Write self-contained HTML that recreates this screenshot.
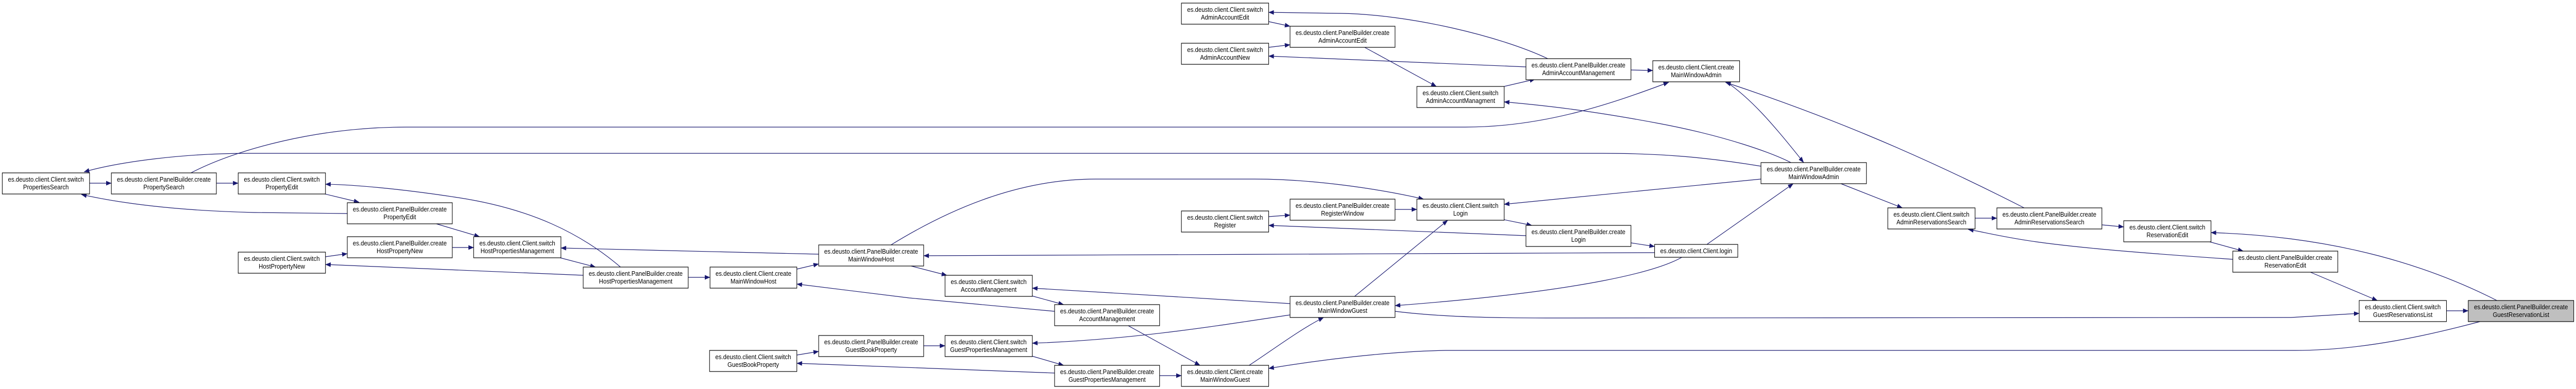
<!DOCTYPE html>
<html><head><meta charset="utf-8"><style>
html,body{margin:0;padding:0;background:#fff;width:100%;height:100%;overflow:hidden;}
svg{display:block;position:absolute;left:0;top:0;width:100vw;height:100vh;}
text{font-family:"Liberation Sans",Arial,sans-serif;font-size:13px;fill:#000;text-anchor:middle;}
.n{fill:#fff;stroke:#000;stroke-width:1.2;}
.g{fill:#bfbfbf;stroke:#000;stroke-width:1.2;}
.e{fill:none;stroke:#191970;stroke-width:1.2;marker-end:url(#a);}
</style></head><body>
<svg viewBox="0 0 5667 756" preserveAspectRatio="none" xmlns="http://www.w3.org/2000/svg">
<defs><marker id="a" markerUnits="userSpaceOnUse" markerWidth="12" markerHeight="9" refX="11.5" refY="4.5" orient="auto"><path d="M0,0 L12,4.5 L0,9 z" fill="#191970"/></marker></defs>
<g>
<path class="e" d="M420,336 C520,290 700,247 893,247 L3223,247 C3400,247 3550,200 3671,160"/>
<path class="e" d="M3874,323 C3750,305 3650,298 3526,298 L545,298 C400,298 260,315 185,334"/>
<path class="e" d="M197,356 L245,356"/>
<path class="e" d="M476,356 L524,356"/>
<path class="e" d="M710,376 L790,393"/>
<path class="e" d="M764,415 L560,413 C420,410 290,400 179,378"/>
<path class="e" d="M1365,519 C1280,455 1170,405 1000,383 C880,367 780,359 716,358"/>
<path class="e" d="M960,435 L1055,460"/>
<path class="e" d="M995,481 L1042,481"/>
<path class="e" d="M716,499 L764,493"/>
<path class="e" d="M1283,535 L716,514"/>
<path class="e" d="M1228,500 L1310,519"/>
<path class="e" d="M1801,494 L1234,482"/>
<path class="e" d="M1513,539 L1562,539"/>
<path class="e" d="M1753,523 L1801,513"/>
<path class="e" d="M2320,605 L2000,579 L1753,552"/>
<path class="e" d="M1960,476 C2100,400 2250,348 2410,348 L2760,348 C2900,348 3050,370 3132,387"/>
<path class="e" d="M2000,516 L2083,535"/>
<path class="e" d="M3640,491 L2032,497"/>
<path class="e" d="M2270,575 L2340,592"/>
<path class="e" d="M2838,590 L2271,560"/>
<path class="e" d="M2480,632 L2640,710"/>
<path class="e" d="M2032,672 L2079,672"/>
<path class="e" d="M1753,690 L1801,683"/>
<path class="e" d="M2320,725 L1753,706"/>
<path class="e" d="M2270,692 L2340,710"/>
<path class="e" d="M2838,612 C2700,630 2500,660 2271,667"/>
<path class="e" d="M2550,730 L2599,730"/>
<path class="e" d="M2748,710 C2800,680 2860,640 2912,617"/>
<path class="e" d="M5460,624 C5350,650 5200,681 5050,681 L3180,681 C3050,683 2900,700 2791,716"/>
<path class="e" d="M3069,605 C3150,614 3250,618 3400,618 L5040,617 L5190,609"/>
<path class="e" d="M2980,576 L3185,428"/>
<path class="e" d="M3700,500 C3650,525 3500,565 3069,594"/>
<path class="e" d="M3405,114 C3300,70 3100,28 2950,26 L2791,24"/>
<path class="e" d="M2791,42 L2838,51"/>
<path class="e" d="M2791,92 L2838,87"/>
<path class="e" d="M3357,130 L2791,109"/>
<path class="e" d="M3000,91 L3160,168"/>
<path class="e" d="M3309,168 L3377,154"/>
<path class="e" d="M3588,136 L3636,137"/>
<path class="e" d="M3940,316 C3900,298 3800,265 3650,240 C3500,215 3400,205 3309,198"/>
<path class="e" d="M3796,158 C3850,190 3900,240 3968,316"/>
<path class="e" d="M4453,404 C4200,290 4000,220 3796,160"/>
<path class="e" d="M3874,348 L3309,397"/>
<path class="e" d="M3755,475 L3945,357"/>
<path class="e" d="M4050,357 L4185,404"/>
<path class="e" d="M4345,424 L4393,424"/>
<path class="e" d="M4624,437 L4672,441"/>
<path class="e" d="M4912,504 C4800,497 4600,485 4480,470 C4400,460 4360,450 4330,446"/>
<path class="e" d="M4857,469 L4935,488"/>
<path class="e" d="M5493,584 C5350,520 5150,460 4864,452"/>
<path class="e" d="M5080,528 L5230,584"/>
<path class="e" d="M5382,604 L5430,604"/>
<path class="e" d="M2791,421 L2838,418"/>
<path class="e" d="M3357,458 L2791,438"/>
<path class="e" d="M3069,407 L3117,407"/>
<path class="e" d="M3309,427 L3370,438"/>
<path class="e" d="M3588,472 L3640,479"/>
</g>
<g>
<rect class="n" x="5" y="336" width="192" height="41"/><text x="101" y="353">es.deusto.client.Client.switch</text><text x="101" y="368">PropertiesSearch</text>
<rect class="n" x="245" y="336" width="231" height="41"/><text x="360.5" y="353">es.deusto.client.PanelBuilder.create</text><text x="360.5" y="368">PropertySearch</text>
<rect class="n" x="524" y="336" width="192" height="41"/><text x="620" y="353">es.deusto.client.Client.switch</text><text x="620" y="368">PropertyEdit</text>
<rect class="n" x="764" y="394" width="231" height="41"/><text x="879.5" y="411">es.deusto.client.PanelBuilder.create</text><text x="879.5" y="426">PropertyEdit</text>
<rect class="n" x="764" y="460" width="231" height="41"/><text x="879.5" y="477">es.deusto.client.PanelBuilder.create</text><text x="879.5" y="492">HostPropertyNew</text>
<rect class="n" x="524" y="490" width="192" height="41"/><text x="620" y="507">es.deusto.client.Client.switch</text><text x="620" y="522">HostPropertyNew</text>
<rect class="n" x="1042" y="460" width="192" height="41"/><text x="1138" y="477">es.deusto.client.Client.switch</text><text x="1138" y="492">HostPropertiesManagement</text>
<rect class="n" x="1283" y="519" width="231" height="41"/><text x="1398.5" y="536">es.deusto.client.PanelBuilder.create</text><text x="1398.5" y="551">HostPropertiesManagement</text>
<rect class="n" x="1562" y="519" width="191" height="41"/><text x="1657.5" y="536">es.deusto.client.Client.create</text><text x="1657.5" y="551">MainWindowHost</text>
<rect class="n" x="1801" y="476" width="231" height="41"/><text x="1916.5" y="493">es.deusto.client.PanelBuilder.create</text><text x="1916.5" y="508">MainWindowHost</text>
<rect class="n" x="1801" y="652" width="231" height="41"/><text x="1916.5" y="669">es.deusto.client.PanelBuilder.create</text><text x="1916.5" y="684">GuestBookProperty</text>
<rect class="n" x="1561" y="681" width="192" height="41"/><text x="1657" y="698">es.deusto.client.Client.switch</text><text x="1657" y="713">GuestBookProperty</text>
<rect class="n" x="2079" y="535" width="192" height="41"/><text x="2175" y="552">es.deusto.client.Client.switch</text><text x="2175" y="567">AccountManagement</text>
<rect class="n" x="2320" y="592" width="231" height="41"/><text x="2435.5" y="609">es.deusto.client.PanelBuilder.create</text><text x="2435.5" y="624">AccountManagement</text>
<rect class="n" x="2838" y="576" width="231" height="41"/><text x="2953.5" y="593">es.deusto.client.PanelBuilder.create</text><text x="2953.5" y="608">MainWindowGuest</text>
<rect class="n" x="2079" y="652" width="192" height="41"/><text x="2175" y="669">es.deusto.client.Client.switch</text><text x="2175" y="684">GuestPropertiesManagement</text>
<rect class="n" x="2320" y="710" width="231" height="41"/><text x="2435.5" y="727">es.deusto.client.PanelBuilder.create</text><text x="2435.5" y="742">GuestPropertiesManagement</text>
<rect class="n" x="2599" y="710" width="192" height="41"/><text x="2695" y="727">es.deusto.client.Client.create</text><text x="2695" y="742">MainWindowGuest</text>
<rect class="n" x="2599" y="6" width="192" height="41"/><text x="2695" y="23">es.deusto.client.Client.switch</text><text x="2695" y="38">AdminAccountEdit</text>
<rect class="n" x="2838" y="51" width="231" height="41"/><text x="2953.5" y="68">es.deusto.client.PanelBuilder.create</text><text x="2953.5" y="83">AdminAccountEdit</text>
<rect class="n" x="2599" y="84" width="192" height="41"/><text x="2695" y="101">es.deusto.client.Client.switch</text><text x="2695" y="116">AdminAccountNew</text>
<rect class="n" x="2599" y="410" width="192" height="41"/><text x="2695" y="427">es.deusto.client.Client.switch</text><text x="2695" y="442">Register</text>
<rect class="n" x="2838" y="387" width="231" height="41"/><text x="2953.5" y="404">es.deusto.client.PanelBuilder.create</text><text x="2953.5" y="419">RegisterWindow</text>
<rect class="n" x="3357" y="114" width="231" height="41"/><text x="3472.5" y="131">es.deusto.client.PanelBuilder.create</text><text x="3472.5" y="146">AdminAccountManagement</text>
<rect class="n" x="3636" y="118" width="191" height="41"/><text x="3731.5" y="135">es.deusto.client.Client.create</text><text x="3731.5" y="150">MainWindowAdmin</text>
<rect class="n" x="3117" y="168" width="192" height="41"/><text x="3213" y="185">es.deusto.client.Client.switch</text><text x="3213" y="200">AdminAccountManagment</text>
<rect class="n" x="3117" y="387" width="192" height="41"/><text x="3213" y="404">es.deusto.client.Client.switch</text><text x="3213" y="419">Login</text>
<rect class="n" x="3357" y="438" width="231" height="41"/><text x="3472.5" y="455">es.deusto.client.PanelBuilder.create</text><text x="3472.5" y="470">Login</text>
<rect class="n" x="3640" y="475" width="183" height="25"/><text x="3731.5" y="492">es.deusto.client.Client.login</text>
<rect class="n" x="3874" y="316" width="232" height="41"/><text x="3990" y="333">es.deusto.client.PanelBuilder.create</text><text x="3990" y="348">MainWindowAdmin</text>
<rect class="n" x="4153" y="404" width="192" height="41"/><text x="4249" y="421">es.deusto.client.Client.switch</text><text x="4249" y="436">AdminReservationsSearch</text>
<rect class="n" x="4393" y="404" width="231" height="41"/><text x="4508.5" y="421">es.deusto.client.PanelBuilder.create</text><text x="4508.5" y="436">AdminReservationsSearch</text>
<rect class="n" x="4672" y="429" width="192" height="41"/><text x="4768" y="446">es.deusto.client.Client.switch</text><text x="4768" y="461">ReservationEdit</text>
<rect class="n" x="4912" y="488" width="231" height="41"/><text x="5027.5" y="505">es.deusto.client.PanelBuilder.create</text><text x="5027.5" y="520">ReservationEdit</text>
<rect class="n" x="5190" y="584" width="192" height="41"/><text x="5286" y="601">es.deusto.client.Client.switch</text><text x="5286" y="616">GuestReservationsList</text>
<rect class="g" x="5430" y="584" width="232" height="41"/><text x="5546" y="601">es.deusto.client.PanelBuilder.create</text><text x="5546" y="616">GuestReservationList</text>
</g>
</svg>
</body></html>
